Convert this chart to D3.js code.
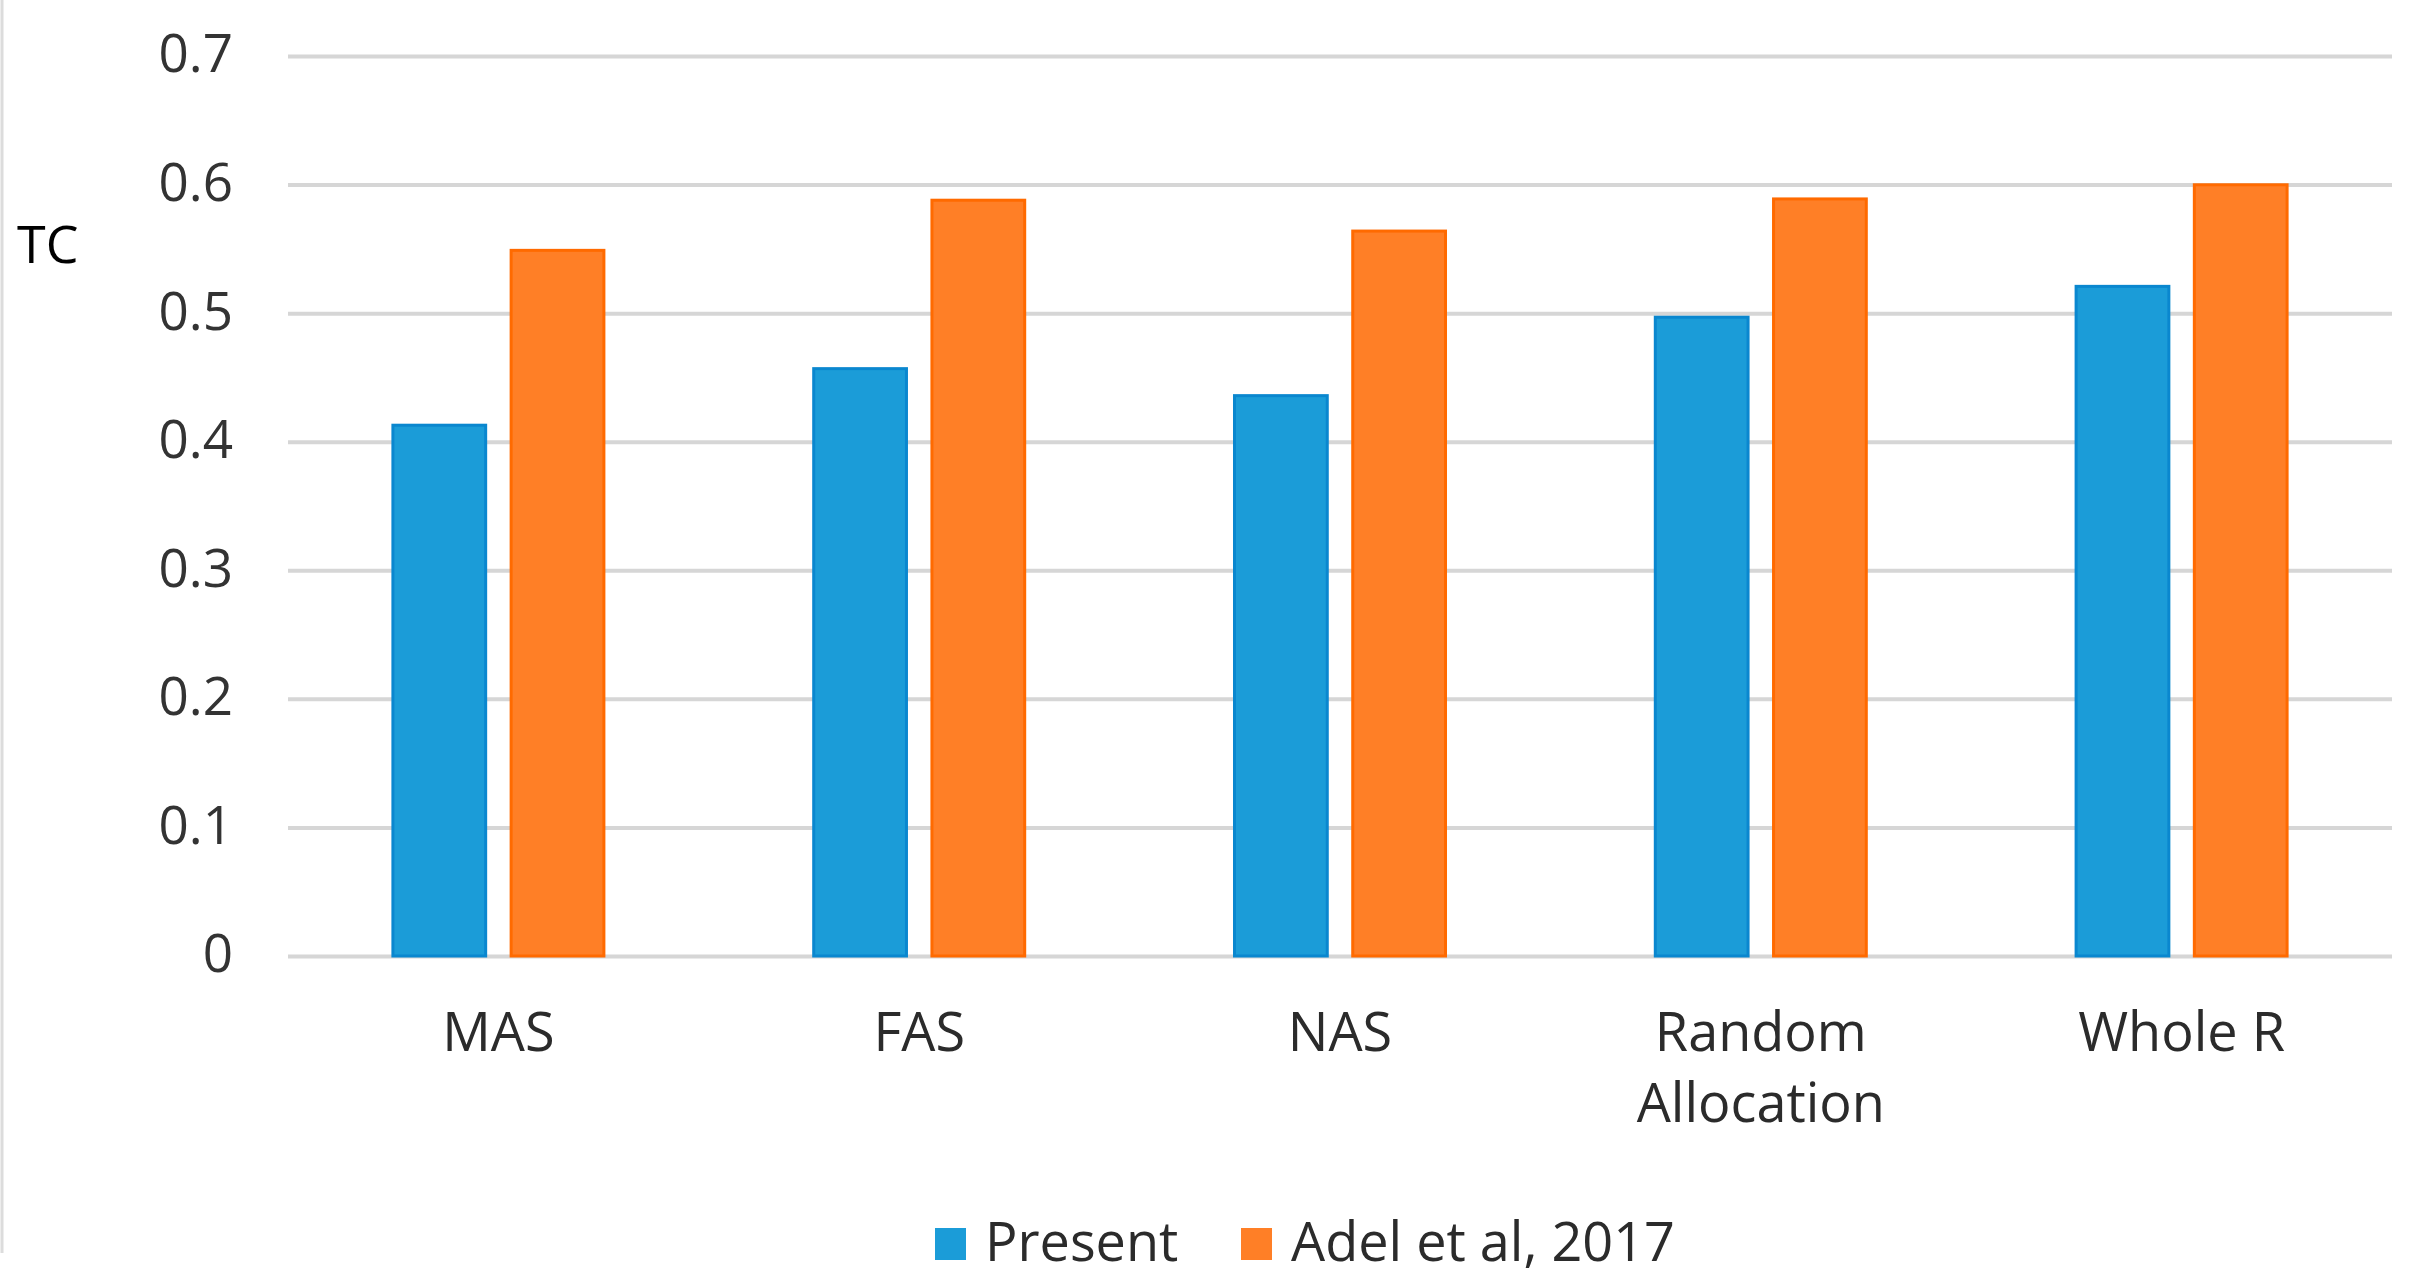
<!DOCTYPE html>
<html lang="en">
<head>
    <meta charset="UTF-8">
    <title>TC comparison</title>
    <script src="https://d3js.org/d3.v7.min.js"></script>
    <style>
        body { margin: 0; background: #fff; }
        text { font-family: "Open Sans", "Noto Sans", sans-serif; }
    </style>
</head>
<body>
    <script>
        var categories = ['MAS', 'FAS', 'NAS', 'Random Allocation', 'Whole R'];
        var categoryLines = [['MAS'], ['FAS'], ['NAS'], ['Random', 'Allocation'], ['Whole R']];
        var seriesNames = ['Present', 'Adel et al, 2017'];
        var presentValues = [0.414, 0.458, 0.437, 0.498, 0.522];
        var adelValues = [0.550, 0.589, 0.565, 0.590, 0.601];
        var tickValues = [0, 0.1, 0.2, 0.3, 0.4, 0.5, 0.6, 0.7];
        var tickLabels = ['0', '0.1', '0.2', '0.3', '0.4', '0.5', '0.6', '0.7'];

        var width = 2425;
        var height = 1283;
        var plotLeft = 288, plotRight = 2392, plotTop = 56, plotBottom = 956;

        var fills = ['#1b9cd8', '#ff7f26'];
        var strokes = ['#0a87cf', '#ff6a00'];

        var svg = d3.select('body')
                    .append('svg')
                    .attr('width', width)
                    .attr('height', height);

        // faint frame line on the left edge
        svg.append('line')
           .attr('x1', 2).attr('x2', 2)
           .attr('y1', 0).attr('y2', 1253)
           .attr('stroke', '#dcdcdc')
           .attr('stroke-width', 3);

        var y = d3.scaleLinear()
                  .domain([0, 0.7])
                  .range([plotBottom, plotTop]);

        var x0 = d3.scaleBand()
                   .domain(categories)
                   .range([plotLeft, plotRight])
                   .padding(0);

        var groupWidth = 214;
        var x1 = d3.scaleBand()
                   .domain(seriesNames)
                   .range([0, groupWidth])
                   .paddingInner(0.19);

        // gridlines
        svg.append('g')
           .attr('transform', 'translate(' + plotLeft + ',0)')
           .call(d3.axisLeft(y).tickValues(tickValues).tickSize(-(plotRight - plotLeft)).tickFormat(''))
           .call(function(g) {
               g.select('.domain').remove();
               g.selectAll('line').attr('stroke', '#d6d6d6').attr('stroke-width', 4);
           });

        // tick labels
        svg.append('g')
           .attr('transform', 'translate(' + plotLeft + ',0)')
           .call(d3.axisLeft(y).tickValues(tickValues).tickSize(0).tickPadding(55)
                   .tickFormat(function(d, i) { return tickLabels[i]; }))
           .call(function(g) {
               g.select('.domain').remove();
               g.selectAll('text')
                .attr('font-size', 53)
                .attr('fill', '#333')
                .style('font-family', '"Open Sans", "Noto Sans", sans-serif')
                .attr('dy', '0.3em');
           });

        var seriesData = [presentValues, adelValues];

        var groups = svg.selectAll('g.cat')
                        .data(categories)
                        .enter()
                        .append('g')
                        .attr('class', 'cat')
                        .attr('transform', function(d) {
                            return 'translate(' + (x0(d) + (x0.bandwidth() - groupWidth) / 2) + ',0)';
                        });

        groups.selectAll('rect')
              .data(function(d, i) {
                  return seriesNames.map(function(s, j) { return { s: s, j: j, v: seriesData[j][i] }; });
              })
              .enter()
              .append('rect')
              .attr('x', function(d) { return x1(d.s) + 1.5; })
              .attr('width', x1.bandwidth() - 3)
              .attr('y', function(d) { return y(d.v) + 1.5; })
              .attr('height', function(d) { return y(0) - y(d.v) - 1.5; })
              .attr('fill', function(d) { return fills[d.j]; })
              .attr('stroke', function(d) { return strokes[d.j]; })
              .attr('stroke-width', 3);

        // category labels
        var catLabels = svg.selectAll('text.cat-label')
                           .data(categories)
                           .enter()
                           .append('text')
                           .attr('class', 'cat-label')
                           .attr('text-anchor', 'middle')
                           .attr('font-size', 54)
                           .attr('fill', '#2b2b2b')
                           .attr('x', function(d) { return x0(d) + x0.bandwidth() / 2; })
                           .attr('y', 1051);

        catLabels.selectAll('tspan')
                 .data(function(d, i) { return categoryLines[i]; })
                 .enter()
                 .append('tspan')
                 .attr('x', function() { var p = this.parentNode; return d3.select(p).attr('x'); })
                 .attr('dy', function(d, i) { return i === 0 ? 0 : 71; })
                 .text(function(d) { return d; });

        // y title
        svg.append('text')
           .attr('x', 17)
           .attr('y', 263)
           .attr('font-size', 52)
           .attr('fill', '#000')
           .text('TC');

        // legend
        var legendX = [935, 1241];
        var legend = svg.selectAll('g.legend')
                        .data(seriesNames)
                        .enter()
                        .append('g')
                        .attr('class', 'legend')
                        .attr('transform', function(d, i) { return 'translate(' + legendX[i] + ',0)'; });

        legend.append('rect')
              .attr('x', 0)
              .attr('y', 1228)
              .attr('width', 31)
              .attr('height', 32)
              .attr('fill', function(d, i) { return fills[i]; });

        legend.append('text')
              .attr('x', 50)
              .attr('y', 1261)
              .attr('font-size', 54)
              .attr('fill', '#2b2b2b')
              .text(function(d) { return d; });
    </script>
</body>
</html>
